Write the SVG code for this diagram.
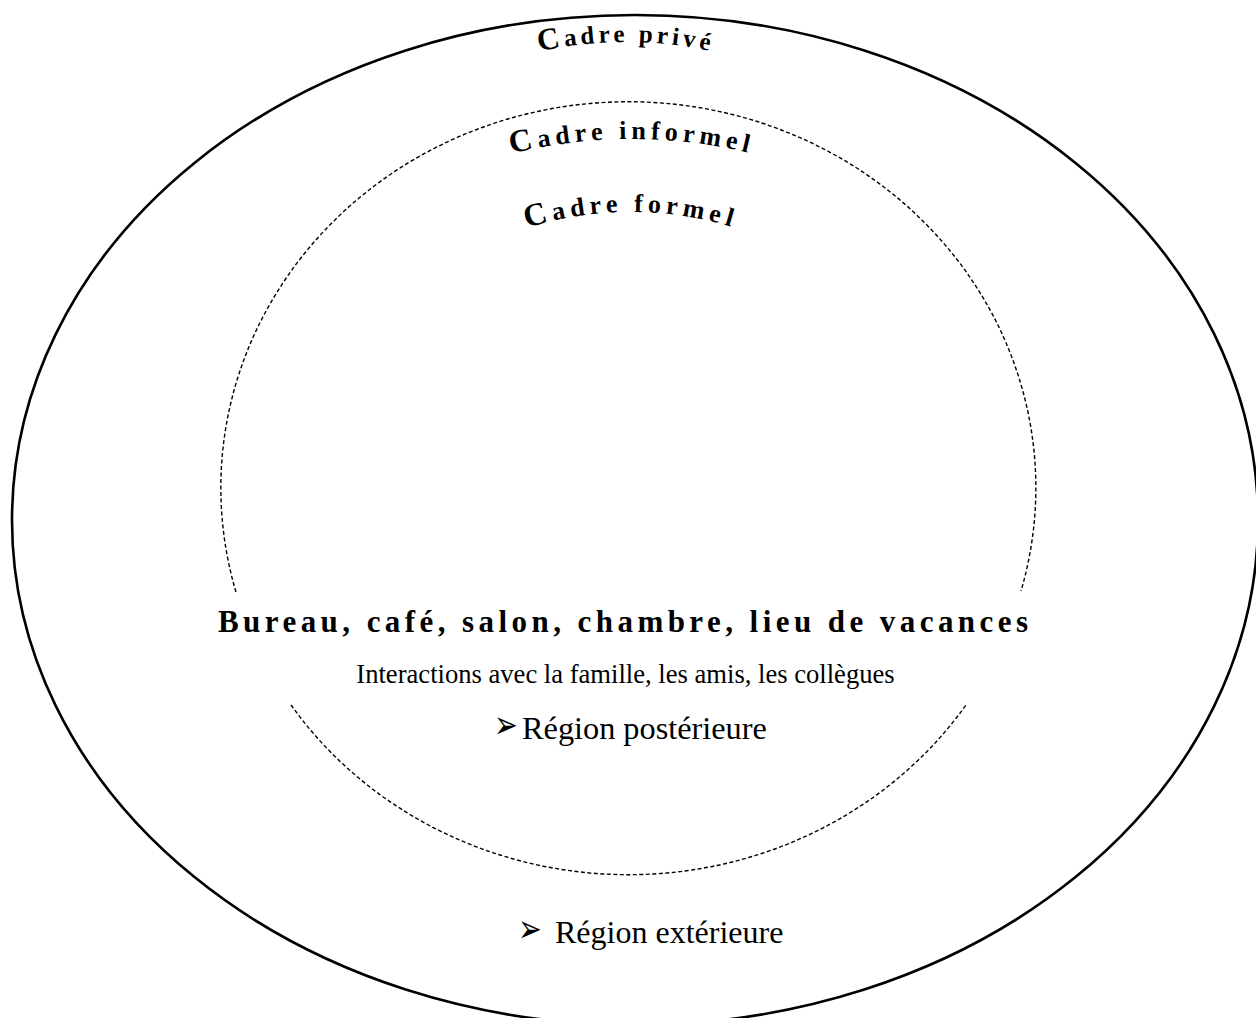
<svg xmlns="http://www.w3.org/2000/svg" xmlns:xlink="http://www.w3.org/1999/xlink" width="1256" height="1018" viewBox="0 0 1256 1018">
  <style>
    .arc { font-family: "Liberation Serif", "Times New Roman", serif; font-weight: bold; fill: #000; }
    .big { font-family: "Liberation Serif", "Times New Roman", serif; font-weight: bold; fill: #000; }
    .reg { font-family: "Liberation Serif", "Times New Roman", serif; fill: #000; }
    .bullet { font-family: "DejaVu Sans", sans-serif; fill: #000; font-size: 30px; }
    .outer { fill: none; stroke: #000; stroke-width: 2.6; }
    .dash { fill: none; stroke: #000; stroke-width: 1.4; stroke-dasharray: 4 2.5; }
  </style>
  <defs>
    <path id="arcPrive" d="M 226 442 A 400 400 0 0 1 1026 442"/>
    <path id="arcInformel" d="M 132 639 A 500 500 0 0 1 1132 639"/>
    <path id="arcFormel" d="M 281 562 A 350 350 0 0 1 981 562"/>
  </defs>
  <rect width="1256" height="1018" fill="#fff"/>

  <g id="cadre-prive">
    <ellipse class="outer" cx="635" cy="520" rx="623" ry="505"/>
    <text class="arc" font-size="25" letter-spacing="3.9">
      <textPath xlink:href="#arcPrive" href="#arcPrive" startOffset="50%" text-anchor="middle"><tspan font-size="31">C</tspan>adre privé</textPath>
    </text>
  </g>

  <g id="cadre-informel">
    <path class="dash" d="M 236 592 A 407.5 386 0 1 1 1021 591"/>
    <path class="dash" d="M 291 705 A 407.5 386 0 0 0 966 705"/>
    <text class="arc" font-size="26" letter-spacing="4.9">
      <textPath xlink:href="#arcInformel" href="#arcInformel" startOffset="50%" text-anchor="middle"><tspan font-size="32">C</tspan>adre informel</textPath>
    </text>
  </g>

  <g id="cadre-formel">
    <text class="arc" font-size="26" letter-spacing="4.9">
      <textPath xlink:href="#arcFormel" href="#arcFormel" startOffset="50%" text-anchor="middle"><tspan font-size="32">C</tspan>adre formel</textPath>
    </text>
  </g>

  <g id="contenu">
    <text class="big" x="218" y="632" font-size="31" textLength="810" lengthAdjust="spacing">Bureau, café, salon, chambre, lieu de vacances</text>
    <text class="reg" x="625.5" y="683" font-size="26.6" text-anchor="middle">Interactions avec la famille, les amis, les collègues</text>
  </g>

  <g id="region-posterieure">
    <text class="bullet" transform="translate(494,738) scale(0.95,1.3)">➢</text>
    <text class="reg" x="522" y="739" font-size="32.3">Région postérieure</text>
  </g>

  <g id="region-exterieure">
    <text class="bullet" transform="translate(518,942) scale(0.95,1.3)">➢</text>
    <text class="reg" x="555" y="943" font-size="32">Région extérieure</text>
  </g>

  <g id="connecteurs"></g>
</svg>
